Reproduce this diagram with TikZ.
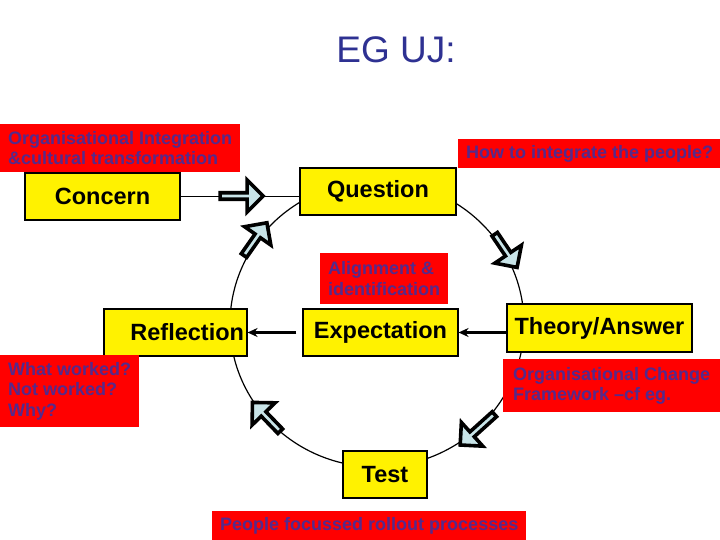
\documentclass[tikz,border=0pt]{standalone}
\usepackage{fontspec}
\setmainfont{Liberation Sans}
\usepackage{tikz}
\usetikzlibrary{arrows.meta,positioning,shapes.arrows}
\definecolor{titleblue}{RGB}{46,49,146}
\definecolor{tagtext}{RGB}{84,42,140}
\definecolor{turnfill}{RGB}{200,228,232}
\tikzset{
  stage/.style={draw=black, line width=1.1pt, fill=yellow, align=center, inner sep=0pt,
    minimum height=47pt, font=\bfseries\fontsize{23.5}{26}\selectfont},
  tag/.style={fill=red, text=tagtext, align=left, inner xsep=8pt, inner ysep=2pt,
    anchor=north west, font=\bfseries\fontsize{18}{20.5}\selectfont},
  turn/.style={single arrow, draw=black, line width=3.6pt, fill=turnfill, inner sep=0pt,
    minimum height=40pt, minimum width=32pt, single arrow head extend=7pt},
  flow/.style={-{Stealth[length=10pt,width=9pt]}, line width=2.2pt},
  ring/.style={line width=1.2pt}
}
\begin{document}
\begin{tikzpicture}[x=1pt, y=-1pt]
  \useasboundingbox (0,0) rectangle (720,540);
  \node[text=titleblue, font=\fontsize{37}{40}\selectfont] (title) at (396,50) {EG UJ:};

  % the cycle
  \draw[ring] (377,324) ellipse [x radius=147pt, y radius=143pt];

  \node[stage, minimum width=155pt] (concern) at (102.5,196.5) {Concern};
  \node[stage, minimum width=156pt] (question) at (378,191.5) {Question};
  \node[stage, minimum width=143pt, text width=137pt, inner xsep=3pt, align=right] (reflection) at (175.5,332.5) {Reflection};
  \node[stage, minimum width=155pt] (expect) at (380.5,332.5) {Expectation};
  \node[stage, minimum width=185pt, minimum height=48pt] (theory) at (599.5,328) {Theory/Answer};
  \node[stage, minimum width=84pt] (test) at (385,474.5) {Test};

  \node[tag, minimum width=239pt, minimum height=48pt] (integ) at (0,124) {Organisational Integration\\\&cultural transformation};
  \node[tag, align=center, minimum width=262pt, minimum height=29pt] (howto) at (458,139) {How to integrate the people?};
  \node[tag, minimum width=127pt, minimum height=51pt] (align) at (320,253) {Alignment \&\\identification};
  \node[tag, minimum width=138pt, minimum height=72pt] (worked) at (0,355) {What worked?\\Not worked?\\Why?};
  \node[tag, minimum width=217pt, minimum height=53pt] (change) at (503,359) {Organisational Change\\Framework --cf eg.};
  \node[tag, align=center, minimum width=313pt, minimum height=29pt] (rollout) at (212,511) {People focussed rollout processes};

  \draw[line width=1pt] (concern.east) -- (concern.east -| question.west);
  \draw[flow] (theory.west |- expect.east) -- (expect.east);
  \draw[flow, shorten <=6pt] (expect.west) -- (reflection.east);

  % hollow arrows round the cycle
  \node[turn, minimum height=43pt] (t0) at (240,196) {};
  \node[turn, rotate=55] (t1) at (254.5,240.5) {};
  \node[turn, rotate=-56] (t2) at (505,249.5) {};
  \node[turn, rotate=-138, minimum height=46pt] (t3) at (478.5,428.5) {};
  \node[turn, rotate=134] (t4) at (267.5,418) {};
\end{tikzpicture}
\end{document}
